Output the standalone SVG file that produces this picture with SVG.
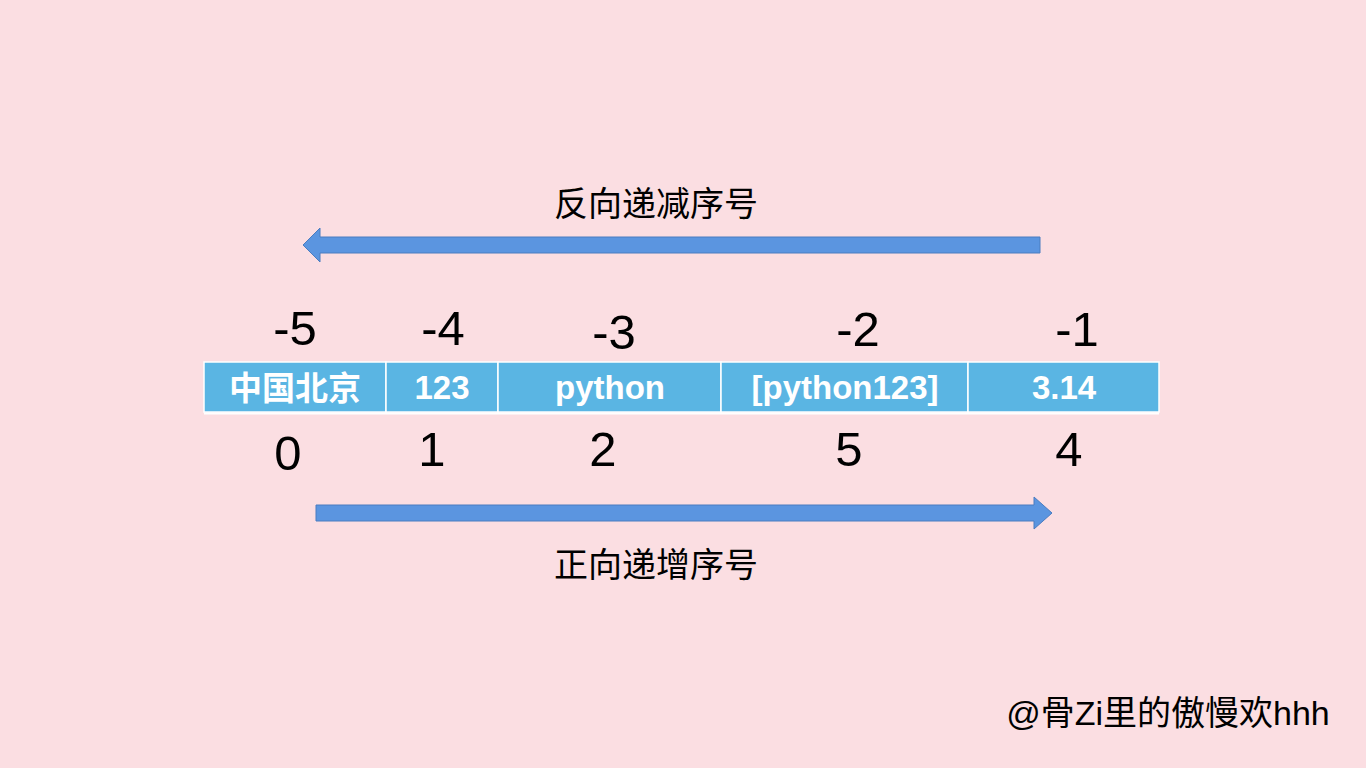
<svg xmlns="http://www.w3.org/2000/svg" width="1366" height="768" viewBox="0 0 1366 768">
<style>
.cell{fill:#5ab5e3;stroke:#ffffff;stroke-width:1.5}
.ct{font-family:"Liberation Sans","Noto Sans CJK SC",sans-serif;font-weight:bold;font-size:33px;fill:#fff;text-anchor:middle}
.num{font-family:"Liberation Sans",sans-serif;font-size:49px;fill:#000;text-anchor:middle}
.lbl{font-family:"Liberation Sans","Noto Sans CJK SC",sans-serif;font-size:34px;fill:#000;text-anchor:middle}
.arr{fill:#5b95e0;stroke:#4a7cc0;stroke-width:1}
</style>
<rect width="1366" height="768" fill="#fbdee2"/>
<g id="cells">
<g id="c0"><rect class="cell" x="204" y="362" width="182" height="50"/><text class="ct" x="295" y="400">中国北京</text></g>
<g id="c1"><rect class="cell" x="386" y="362" width="112" height="50"/><text class="ct" x="442" y="399">123</text></g>
<g id="c2"><rect class="cell" x="498" y="362" width="223" height="50"/><text class="ct" x="610" y="399">python</text></g>
<g id="c3"><rect class="cell" x="721" y="362" width="247" height="50"/><text class="ct" x="845" y="399">[python123]</text></g>
<g id="c4"><rect class="cell" x="968" y="362" width="191" height="50"/><text class="ct" x="1064" y="399">3.14</text></g>
<line x1="204" y1="413.5" x2="1159" y2="413.5" stroke="#fff" stroke-width="2"/>
</g>
<g id="neg">
<text class="num" x="295" y="345">-5</text>
<text class="num" x="443" y="345">-4</text>
<text class="num" x="614" y="349">-3</text>
<text class="num" x="858" y="346">-2</text>
<text class="num" x="1077" y="346">-1</text>
</g>
<g id="pos">
<text class="num" x="288" y="470">0</text>
<text class="num" x="432" y="466">1</text>
<text class="num" x="603" y="466">2</text>
<text class="num" x="849" y="466">5</text>
<text class="num" x="1069" y="466">4</text>
</g>
<g id="connectors">
<polygon class="arr" points="1040,237 320,237 320,228 303,245 320,262 320,253 1040,253"/>
<polygon class="arr" points="316,505 1034,505 1034,497 1052,513 1034,529 1034,521 316,521"/>
</g>
<text class="lbl" x="656" y="216">反向递减序号</text>
<text class="lbl" x="656" y="577">正向递增序号</text>
<text class="lbl" x="1168" y="725">@骨Zi里的傲慢欢hhh</text>
</svg>
